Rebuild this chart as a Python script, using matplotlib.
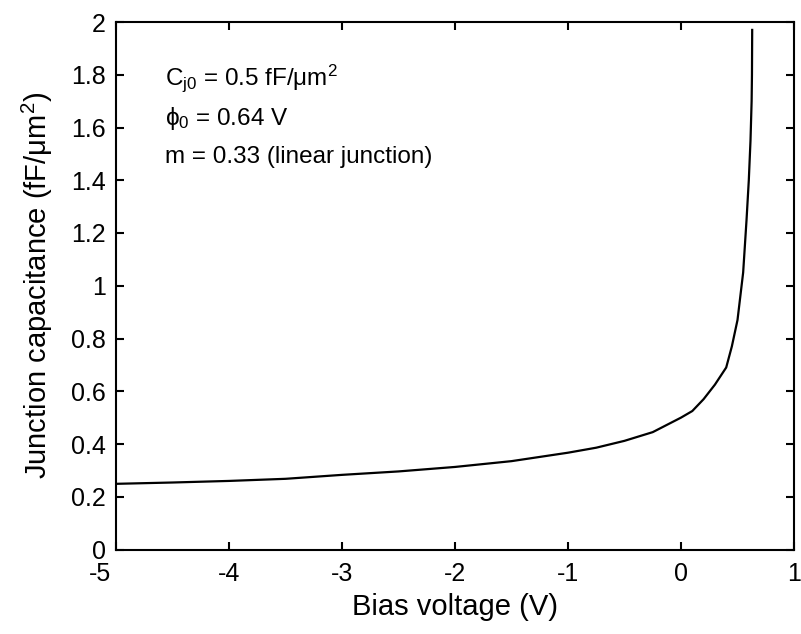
import matplotlib
matplotlib.use("Agg")
import matplotlib.pyplot as plt
import matplotlib.transforms as mtransforms

plt.rcParams['font.family'] = ['Liberation Sans', 'DejaVu Sans']
plt.rcParams['mathtext.fontset'] = 'custom'
plt.rcParams['mathtext.rm'] = 'Liberation Sans'
plt.rcParams['mathtext.it'] = 'Liberation Sans'

# values
bias_v = [-5.0, -4.5, -4.0, -3.5, -3.0, -2.5, -2.0, -1.5, -1.0, -0.75, -0.5, -0.25,
          0.0, 0.1, 0.2, 0.3, 0.4, 0.45, 0.5, 0.55, 0.58, 0.6, 0.615, 0.625, 0.628, 0.63]
cap = [0.249, 0.254, 0.260, 0.268, 0.283, 0.296, 0.313, 0.335, 0.367, 0.386, 0.412, 0.445,
       0.500, 0.525, 0.57, 0.625, 0.69, 0.77, 0.87, 1.05, 1.25, 1.40, 1.55, 1.70, 1.80, 1.97]

xticks = [-5, -4, -3, -2, -1, 0, 1]
yticks = [0, 0.2, 0.4, 0.6, 0.8, 1, 1.2, 1.4, 1.6, 1.8, 2]
ytick_labels = ['0', '0.2', '0.4', '0.6', '0.8', '1', '1.2', '1.4', '1.6', '1.8', '2']

fig = plt.figure(figsize=(8.01, 6.34), dpi=100)
ax = fig.add_axes([116 / 801, 1 - 549.5 / 634, 678 / 801, 527.5 / 634])

ax.plot(bias_v, cap, color='black', lw=1.6)

ax.set_xlim(-5, 1)
ax.set_ylim(0, 2)
ax.set_xticks(xticks)
ax.set_xticklabels([str(t) for t in xticks])
ax.set_yticks(yticks)
ax.set_yticklabels(ytick_labels)
ax.tick_params(direction='in', top=True, right=True, length=6, width=1.5, labelsize=18)
ax.tick_params(axis='x', pad=9)
ax.tick_params(axis='y', pad=7.5)
for s in ax.spines.values():
    s.set_linewidth(1.5)

# the first x label sits left of its tick in the reference
lbl = ax.get_xticklabels()[0]
lbl.set_transform(lbl.get_transform() + mtransforms.ScaledTranslation(-0.16, 0, fig.dpi_scale_trans))

ax.set_xlabel('Bias voltage (V)', fontsize=21, labelpad=5)
ax.set_ylabel('Junction capacitance (fF/μm$^2$)', fontsize=21, labelpad=11)

ax.text(-4.564, 1.787, 'C$_{j0}$ = 0.5 fF/μm$^2$', fontsize=17.5, va='center')
ax.text(-4.564, 1.635, r'$\phi_0$ = 0.64 V', fontsize=17.5, va='center')
ax.text(-4.564, 1.488, 'm = 0.33 (linear junction)', fontsize=17.5, va='center')

fig.savefig('out.png', dpi=100)
